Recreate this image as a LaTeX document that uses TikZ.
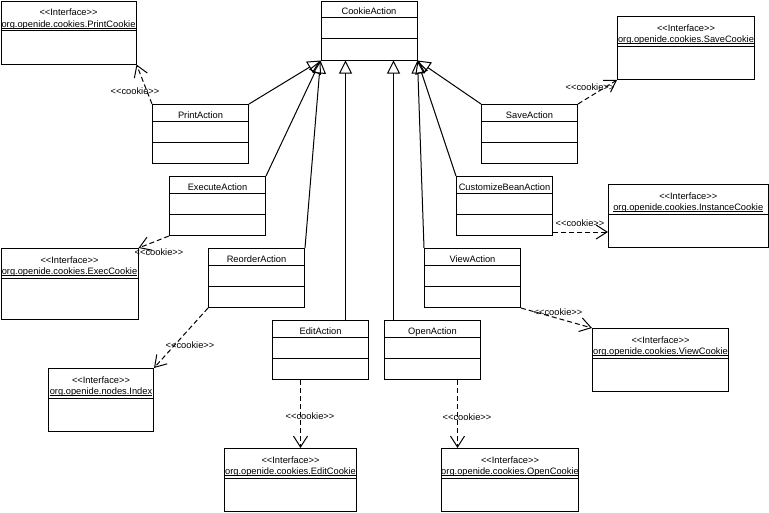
\documentclass[tikz,border=0pt]{standalone}
\usepackage{fontspec}
\newfontfamily\umlfont{Liberation Sans}
\usetikzlibrary{arrows.meta}
\tikzset{
 abox/.style={draw, line width=1pt, minimum width=96pt, minimum height=59pt, inner sep=0pt, anchor=north west},
 ibox/.style={draw, line width=1pt, inner sep=0pt, anchor=north west},
 txt/.style={font=\umlfont\fontsize{9.3}{10}\selectfont, inner sep=0pt},
 sepline/.style={line width=1pt},
 uline/.style={line width=0.8pt},
 inh/.style={line width=1pt, -{Triangle[open,length=13pt,width=13pt]}},
 dep/.style={line width=1pt, dash pattern=on 5pt off 3pt, -{Straight Barb[length=11pt,width=14pt]}},
}
\newcommand\actbox[4]{%
 \node[abox] (#1) at (#2,#3) {};
 \draw[sepline] ([yshift=-17pt]#1.north west) -- ([yshift=-17pt]#1.north east);
 \draw[sepline] ([yshift=-38pt]#1.north west) -- ([yshift=-38pt]#1.north east);
 \node[txt, anchor=base] (#1-name) at ([yshift=-14pt]#1.north) {#4};
}
\newcommand\ifbox[6]{%
 \node[ibox, minimum width=#4pt, minimum height=#5pt] (#1) at (#2,#3) {};
 \draw[sepline] ([yshift=-30pt]#1.north west) -- ([yshift=-30pt]#1.north east);
 \node[txt, anchor=base] (#1-st) at ([yshift=-15pt]#1.north) {<<Interface>>};
 \node[txt, anchor=base] (#1-name) at ([yshift=-26.5pt]#1.north) {#6};
 \draw[uline] ([yshift=-1.2pt]#1-name.base west) -- ([yshift=-1.2pt]#1-name.base east);
}
\begin{document}
\begin{tikzpicture}[x=1pt, y=-1pt]
\fill[white] (0,0) rectangle (769,512);
\useasboundingbox (0,0) rectangle (769,512);
% classes
\actbox{cookie}{320.5}{0.5}{CookieAction}
\actbox{print}{152}{104}{PrintAction}
\actbox{save}{481}{104}{SaveAction}
\actbox{exec}{169}{176}{ExecuteAction}
\actbox{cbean}{456}{176}{CustomizeBeanAction}
\actbox{reorder}{208}{248}{ReorderAction}
\actbox{view}{424}{248}{ViewAction}
\actbox{edit}{272}{320}{EditAction}
\actbox{open}{384}{320}{OpenAction}
% interfaces
\ifbox{printc}{0.5}{0.5}{135}{63}{org.openide.cookies.PrintCookie}
\ifbox{savec}{617}{16}{137}{63}{org.openide.cookies.SaveCookie}
\ifbox{execc}{0.5}{248}{137}{71}{org.openide.cookies.ExecCookie}
\ifbox{index}{48}{368}{105}{63}{org.openide.nodes.Index}
\ifbox{instc}{608}{184}{159.5}{63}{org.openide.cookies.InstanceCookie}
\ifbox{viewc}{592}{328}{136}{63}{org.openide.cookies.ViewCookie}
\ifbox{editc}{224}{448}{132}{63}{org.openide.cookies.EditCookie}
\ifbox{openc}{441}{448}{137}{63}{org.openide.cookies.OpenCookie}
% generalisations
\draw[inh] (print.north east) -- (cookie.south west);
\draw[inh] (exec.north east) -- (cookie.south west);
\draw[inh] (reorder.north east) -- (cookie.south west);
\draw[inh] ([xshift=25pt]edit.north) -- ([xshift=25pt]edit.north |- cookie.south);
\draw[inh] ([xshift=-39pt]open.north) -- ([xshift=-39pt]open.north |- cookie.south);
\draw[inh] (view.north west) -- (cookie.south east);
\draw[inh] (cbean.north west) -- (cookie.south east);
\draw[inh] (save.north west) -- (cookie.south east);
% dependencies
\draw[dep] (print.north west) -- (printc.south east);
\draw[dep] (save.north east) -- (savec.south west);
\draw[dep] (exec.south west) -- (execc.north east);
\draw[dep] (reorder.south west) -- (index.north east);
\draw[dep] ([yshift=4pt]cbean.south east) -- ([yshift=4pt]cbean.south east -| instc.west);
\draw[dep] (view.south east) -- (viewc.north west);
\draw[dep] ([xshift=-20pt]edit.south) -- ([xshift=-20pt]edit.south |- editc.north);
\draw[dep] ([xshift=25pt]open.south) -- ([xshift=25pt]open.south |- openc.north);
% stereotype labels
\node[txt] (l-print) at (135,91) {<<cookie>>};
\node[txt] (l-save) at (590,87) {<<cookie>>};
\node[txt] (l-exec) at (159,252) {<<cookie>>};
\node[txt] (l-reorder) at (190,345) {<<cookie>>};
\node[txt] (l-cbean) at (580,223) {<<cookie>>};
\node[txt] (l-view) at (558,312) {<<cookie>>};
\node[txt] (l-edit) at (310,416) {<<cookie>>};
\node[txt] (l-open) at (467,417) {<<cookie>>};
\end{tikzpicture}
\end{document}
